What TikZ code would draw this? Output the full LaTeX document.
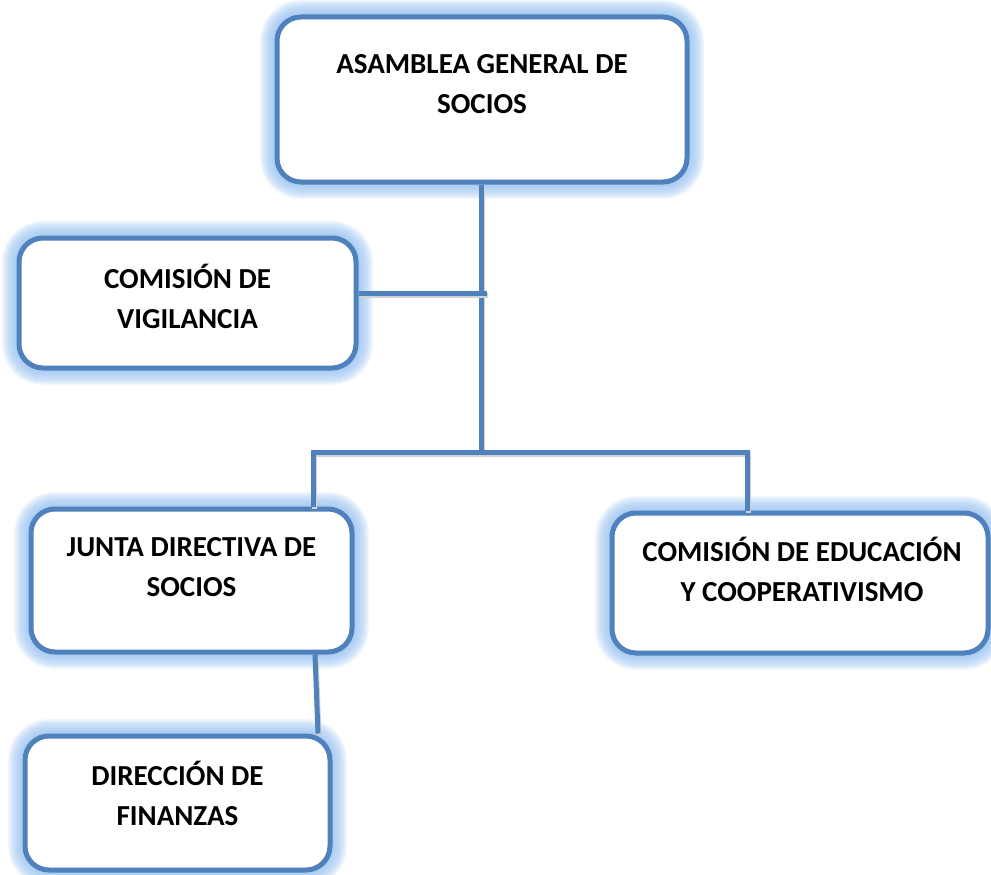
\documentclass[tikz,border=0pt]{standalone}
\usepackage{fontspec}
\setmainfont{Carlito}
\usepackage{tikz}

\definecolor{boxblue}{RGB}{79,129,189}
\definecolor{glowblue}{RGB}{150,192,240}

\tikzset{
  glow/.style={preaction={draw=glowblue, line width=#1, opacity=.14}},
  orgbox/.style={rectangle, rounded corners=24pt, fill=white, draw=boxblue, line width=5pt,
    glow=34pt, glow=31pt, glow=28pt, glow=25pt, glow=22pt, glow=19pt,
    glow=16pt, glow=13pt, glow=10pt, glow=8pt},
  orgtext/.style={align=center, font=\bfseries\fontsize{29}{40}\selectfont},
  conn/.style={draw=boxblue, line width=5pt,
    preaction={draw=black!18, line width=5pt, transform canvas={shift={(1pt,-2pt)}}}}
}

\begin{document}
\begin{tikzpicture}[x=1pt, y=-1pt]
  \useasboundingbox (0,0) rectangle (991,875);

  \node[orgbox, minimum width=410pt, minimum height=165pt] (asamblea) at (482,99.5) {};
  \node[orgbox, minimum width=337pt, minimum height=130pt] (vigilancia) at (187.5,303) {};
  \node[orgbox, minimum width=321pt, minimum height=143pt] (junta) at (191.5,580.5) {};
  \node[orgbox, minimum width=376pt, minimum height=140pt] (educacion) at (800,583) {};
  \node[orgbox, minimum width=305pt, minimum height=134pt] (finanzas) at (177.5,803) {};

  \node[orgtext] (asamblea-t) at ([yshift=15pt]asamblea.center) {ASAMBLEA GENERAL DE\\SOCIOS};
  \node[orgtext] (vigilancia-t) at ([yshift=7pt]vigilancia.center) {COMISIÓN DE\\VIGILANCIA};
  \node[orgtext] (junta-t) at ([yshift=13pt]junta.center) {JUNTA DIRECTIVA DE\\SOCIOS};
  \node[orgtext] (educacion-t) at ([xshift=2pt,yshift=14pt]educacion.center) {COMISIÓN DE EDUCACIÓN\\Y COOPERATIVISMO};
  \node[orgtext] (finanzas-t) at ([yshift=10pt]finanzas.center) {DIRECCIÓN DE\\FINANZAS};

  % connectors
  \coordinate (bus) at (481,452);
  \coordinate (busL) at (313,452);
  \coordinate (busR) at (747,452);
  \coordinate (tick) at (487,293);

  \draw[conn] (asamblea.south -| bus) -- (bus);
  \draw[conn] (vigilancia.east |- tick) -- (tick);
  \draw[conn] (junta.north -| busL) -- (busL) -- (busR) -- (educacion.north -| busR);
  \draw[conn] ([xshift=123.5pt]junta.south) -- ([xshift=140.5pt]finanzas.north);
\end{tikzpicture}
\end{document}
